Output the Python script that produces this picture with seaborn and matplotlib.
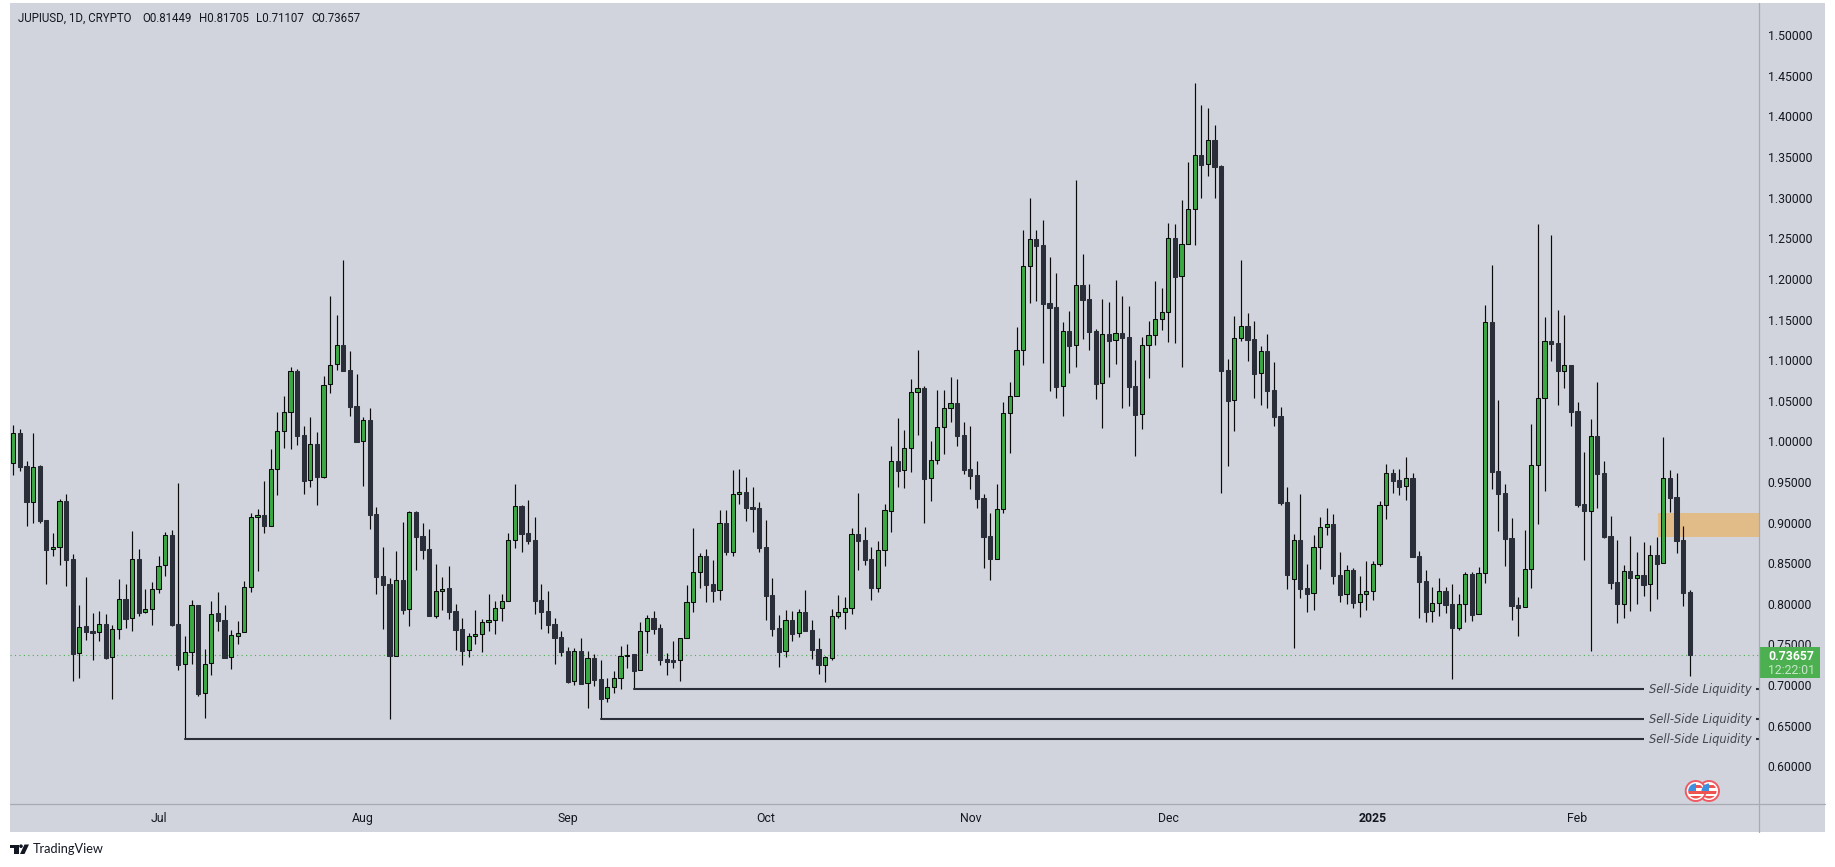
import matplotlib
matplotlib.use("Agg")
import matplotlib.pyplot as plt
from matplotlib.patches import Circle, Polygon, Rectangle
import numpy as np
import pandas as pd
import seaborn as sns

# daily candles, one value per day from Jun 2024 to Feb 2025
opens = [
    .9729,1.0099,.9696,.9257,.9696,.9028,.8671,.8695,.9262,.8548,
    .7391,.7723,.7662,.7649,.7752,.7342,.7686,.8055,.7822,.8548,
    .7896,.7932,.8179,.8474,.8847,.7752,.7255,.7403,.7986,.6899,
    .7268,.7887,.7801,.7342,.7608,.7649,.8203,.9065,.9093,.8954,
    .9655,1.0123,1.0357,1.0866,1.0078,.9520,.9967,.9565,1.0702,1.0948,
    1.1186,1.0878,1.0435,1.0000,1.0263,.9106,.8343,.8240,.7354,.8293,
    .7932,.9130,.8835,.8675,.7854,.8162,.8191,.7912,.7685,.7427,
    .7599,.7624,.7772,.7796,.7944,.8030,.8781,.9199,.8867,.8781,
    .8042,.7911,.7751,.7591,.7415,.7045,.7415,.7021,.7333,.7070,
    .6836,.6972,.7082,.7353,.7378,.7181,.7661,.7825,.7702,.7316,
    .7304,.7304,.7575,.8018,.8387,.8588,.8243,.8165,.8994,.8641,
    .9347,.9376,.9191,.9179,.8699,.8108,.7702,.7415,.7800,.7636,
    .7899,.7677,.7443,.7250,.7337,.7845,.7895,.7944,.8859,.8785,
    .8551,.8198,.8658,.9138,.9757,.9642,.9914,1.0603,1.0656,.9544,
    .9766,1.0172,1.0406,1.0471,1.0078,.9659,.9585,.9302,.8835,.8556,
    .9163,1.0344,1.0553,1.1120,1.2154,1.2490,1.2416,1.1702,1.1653,1.0677,
    1.1358,1.1181,1.1924,1.1752,1.1358,1.0713,1.1321,1.1243,1.1333,1.1284,
    1.0681,1.0332,1.1181,1.1304,1.1501,1.1587,1.2502,1.2030,1.2424,1.2855,
    1.3524,1.3409,1.3708,1.3388,1.0878,1.0504,1.1267,1.1419,1.1259,1.0837,
    1.1111,1.0631,1.0311,.9252,.8300,.8785,.8194,.8128,.8694,.8940,
    .8982,.8354,.8116,.8415,.8017,.8116,.8153,.8485,.9211,.9609,
    .9523,.9445,.9548,.8588,.8280,.7907,.8005,.8157,.7997,.7706,
    .7993,.8366,.7870,.8374,1.1468,.9634,.9363,.8809,.7985,.7956,
    .8424,.9704,1.0528,1.1234,1.1209,1.0869,1.0938,1.0368,.9224,.9146,
    1.0065,.9609,.8834,.8268,.8001,.8403,.8321,.8354,.8239,.8600,
    .8497,.9548,.9314,.8785,.81449,
]
highs = [
    1.0201,1.0152,.9758,1.0103,.9709,.9028,.8868,.9290,.9352,.8613,
    .7986,.8330,.7883,.7912,.7875,.7740,.8306,.8244,.8896,.8675,
    .8183,.8269,.8589,.8884,.8909,.9483,.7604,.8047,.7986,.7444,
    .8035,.8146,.7986,.7678,.7789,.8281,.9118,.9167,.9512,.9906,
    1.0361,1.0558,1.0915,1.0890,1.0189,1.0300,1.0115,1.0804,1.1789,1.1555,
    1.2232,1.1112,1.0829,1.0300,1.0410,.9192,.8700,.8318,.8650,.9007,
    .9143,.9143,.8995,.8921,.8490,.8330,.8466,.7998,.7821,.7636,
    .7923,.7813,.8116,.8034,.8116,.8867,.9474,.9216,.9277,.9068,
    .8243,.8157,.7821,.7665,.7468,.7456,.7579,.7415,.7382,.7308,
    .7086,.7173,.7480,.7505,.7378,.7776,.7862,.7911,.7751,.7394,
    .7542,.7575,.8231,.8933,.8625,.8674,.8539,.9154,.9154,.9646,
    .9659,.9560,.9437,.9253,.9031,.8317,.7862,.7923,.7911,.7936,
    .8170,.7800,.7579,.7357,.7936,.8108,.8083,.8933,.9363,.8945,
    .8699,.8773,.9228,.9942,1.0286,1.0139,1.0767,1.1124,1.0681,1.0004,
    1.0631,1.0631,1.0791,1.0767,1.0238,1.0188,.9758,.9351,.9118,.9475,
    1.0484,1.0730,1.1407,1.2601,1.2995,1.2601,1.2724,1.2268,1.2072,1.1468,
    1.1604,1.3216,1.2305,1.1936,1.1382,1.1752,1.1715,1.1985,1.1788,1.1665,
    1.1001,1.1284,1.1481,1.1973,1.1887,1.2687,1.2675,1.2970,1.3438,1.4410,
    1.4139,1.4102,1.3893,1.3401,1.1013,1.1542,1.2232,1.1579,1.1481,1.1173,
    1.1320,1.0975,1.0422,.9437,.8858,.9351,.8489,.8846,.9068,.9178,
    .9105,.8637,.8477,.8440,.8342,.8526,.8526,.9265,.9720,.9658,
    .9658,.9806,.9609,.8649,.8415,.8206,.8317,.8206,.8243,.8120,
    .8391,.8391,.8452,1.1677,1.2169,1.0508,.9474,.9055,.8083,.8908,
    1.0212,1.2680,1.1529,1.2538,1.1615,1.1554,1.0938,1.0483,.9868,1.0274,
    1.0729,.9757,.9080,.8785,.8477,.8834,.8637,.8760,.8723,.8822,
    1.0052,.9646,.9609,.8957,.81705,
]
lows = [
    .9586,.9639,.8962,.8999,.8999,.8248,.8593,.8482,.8224,.7054,
    .7091,.7559,.7313,.7547,.7325,.6833,.7571,.7707,.7670,.7855,
    .7883,.7744,.8138,.8347,.7731,.7190,.6341,.7264,.6870,.6599,
    .7128,.7666,.7337,.7202,.7510,.7649,.8150,.8404,.8872,.8954,
    .9340,.9922,.9906,.9955,.9352,.9438,.9217,.9549,1.0595,1.0878,
    1.0870,1.0312,.9996,.9450,.8921,.8121,.7690,.6587,.7354,.7875,
    .7727,.8416,.8552,.7854,.7830,.7924,.7813,.7432,.7246,.7349,
    .7505,.7410,.7665,.7628,.7788,.8030,.8686,.8637,.8736,.7874,
    .7690,.7640,.7259,.7357,.7025,.7000,.7017,.6717,.6988,.6582,
    .6791,.6902,.6951,.7209,.6951,.7181,.7394,.7628,.7246,.7123,
    .7209,.7049,.7575,.7899,.8194,.8022,.8022,.8046,.8600,.8588,
    .9228,.9019,.8883,.8637,.7800,.7603,.7222,.7345,.7542,.7591,
    .7665,.7320,.7136,.7037,.7308,.7825,.7690,.7874,.8416,.8477,
    .8046,.8145,.8465,.8883,.9437,.9425,.9626,1.0082,.8999,.9269,
    .9725,.9848,1.0242,.9946,.9602,.9417,.9183,.8441,.8293,.8556,
    .9122,.9860,1.0553,1.0939,1.1702,1.1727,1.0964,1.0619,1.0533,1.0311,
    1.0841,1.0915,1.1259,1.1124,1.0521,1.0164,1.0791,1.0952,1.0410,1.0435,
    .9819,1.0151,1.0779,1.1185,1.1370,1.1222,1.1210,1.0915,1.2424,1.2416,
    1.2997,1.3265,1.2997,.9364,.9696,1.0127,1.1235,1.0988,1.0533,1.0447,
    1.0409,1.0188,.9215,.8182,.7455,.8071,.7898,.7923,.8428,.8846,
    .8243,.8021,.7997,.7948,.7837,.7923,.8046,.8469,.9043,.9363,
    .9338,.9277,.8579,.7825,.7775,.7775,.7849,.7886,.7078,.7677,
    .7775,.7788,.7870,.8255,.9412,.8895,.8465,.7800,.7603,.7956,
    .8194,.8982,.9388,1.0988,1.0446,1.0655,1.0188,.9191,.8538,.7418,
    .9178,.8809,.8182,.7763,.7825,.7911,.7997,.8095,.7911,.8058,
    .8497,.9129,.8625,.7972,.71107,
]
closes = [
    1.0099,.9688,.9257,.9688,.9024,.8667,.8695,.9262,.8544,.7383,
    .7719,.7658,.7645,.7748,.7337,.7686,.8055,.7817,.8548,.7891,
    .7932,.8179,.8462,.8843,.7740,.7251,.7403,.7982,.6894,.7255,
    .7871,.7793,.7337,.7612,.7645,.8203,.9065,.9089,.8962,.9655,
    1.0123,1.0357,1.0862,1.0070,.9516,.9963,.9565,1.0698,1.0944,1.1182,
    1.0870,1.0427,.9996,1.0259,.9098,.8334,.8236,.7354,.8289,.7924,
    .9126,.8827,.8667,.7854,.8162,.8187,.7904,.7682,.7423,.7599,
    .7624,.7772,.7796,.7944,.8030,.8781,.9199,.8863,.8777,.8038,
    .7903,.7743,.7583,.7410,.7037,.7415,.7017,.7328,.7066,.6832,
    .6972,.7082,.7353,.7374,.7177,.7661,.7821,.7694,.7308,.7287,
    .7287,.7575,.8018,.8387,.8584,.8231,.8157,.8990,.8637,.9347,
    .9372,.9183,.9171,.8686,.8100,.7690,.7410,.7796,.7628,.7895,
    .7665,.7431,.7246,.7341,.7845,.7895,.7944,.8855,.8773,.8539,
    .8194,.8658,.9150,.9753,.9638,.9913,1.0603,1.0652,.9540,.9766,
    1.0172,1.0406,1.0467,1.0069,.9651,.9577,.9294,.8827,.8556,.9163,
    1.0344,1.0553,1.1120,1.2154,1.2486,1.2408,1.1694,1.1645,1.0673,1.1354,
    1.1177,1.1920,1.1743,1.1349,1.0709,1.1317,1.1239,1.1329,1.1272,1.0673,
    1.0328,1.1181,1.1304,1.1501,1.1587,1.2498,1.2026,1.2424,1.2855,1.3520,
    1.3405,1.3704,1.3380,1.0869,1.0500,1.1267,1.1415,1.1251,1.0833,1.1107,
    1.0623,1.0303,.9244,.8358,.8780,.8182,.8124,.8694,.8940,.8977,
    .8346,.8112,.8411,.8013,.8116,.8153,.8485,.9211,.9605,.9515,
    .9441,.9544,.8579,.8272,.7903,.8005,.8153,.7985,.7706,.7993,
    .8362,.7866,.8374,1.1464,.9621,.9355,.8801,.7976,.7952,.8424,
    .9704,1.0528,1.1230,1.1197,1.0865,1.0934,1.0360,.9215,.9142,1.0060,
    .9597,.8822,.8255,.7997,.8399,.8317,.8350,.8231,.8596,.8489,
    .9544,.9301,.8772,.8132,.73657,
]

month_days = [23, 54, 85, 115, 146, 176, 207, 238]
month_labels = ["Jul", "Aug", "Sep", "Oct", "Nov", "Dec", "2025", "Feb"]
price_ticks = [.60, .65, .70, .75, .80, .85, .90, .95, 1.00, 1.05, 1.10, 1.15,
               1.20, 1.25, 1.30, 1.35, 1.40, 1.45, 1.50]

# sell side liquidity levels and the candle each one starts from
liquidity_prices = [.6951, .6582, .6336]
liquidity_days = [95, 90, 27]
liquidity_label = "Sell-Side Liquidity"
last_close = .73657
zone_low, zone_high = .8822, .9118
zone_start = 250.2

W, H = 1835, 867
PANEL = "#d1d4dc"
GREEN = "#3ca844"
DARK = "#2a2e39"
WICK = "#0a0a0a"
AXIS = "#a8abb4"
TEXT = "#131722"
XLIM = (0.5, 265.5)
YLIM = (0.5536, 1.5396)


def px_rect(left, top, right, bottom):
    return [left / W, 1 - bottom / H, (right - left) / W, (bottom - top) / H]


sns.set_theme(style="white")
plt.rcParams["font.family"] = ["Roboto", "DejaVu Sans"]

df = pd.DataFrame({"day": np.arange(1, len(opens) + 1), "open": opens, "high": highs, "low": lows, "close": closes})
df["body_low"] = df[["open", "close"]].min(axis=1)
df["body"] = (df["close"] - df["open"]).abs()
up = df[df["close"] > df["open"]]
down = df[df["close"] <= df["open"]]

fig = plt.figure(figsize=(W / 100, H / 100), dpi=100, facecolor="white")

bg = fig.add_axes(px_rect(10, 3, 1825, 832), zorder=-1)
bg.set_facecolor(PANEL)
bg.set_xticks([])
bg.set_yticks([])
sns.despine(ax=bg, left=True, bottom=True)

ax = fig.add_axes(px_rect(10, 3, 1759, 804), zorder=1)
ax.patch.set_visible(False)

ax.axhspan(zone_low, zone_high, xmin=(zone_start - XLIM[0]) / (XLIM[1] - XLIM[0]), color="#e2bc88", lw=0, zorder=1)
ax.axhline(last_close, color="#4caf50", lw=0.8, ls=(0, (1, 3)), zorder=1.5)

ax.vlines(df["day"], df["low"], df["high"], color=WICK, lw=0.85, zorder=2)
sns.barplot(data=down, x="day", y="body", bottom=down["body_low"].values, native_scale=True, width=0.64,
            color=DARK, saturation=1, edgecolor=DARK, linewidth=0.75, errorbar=None, zorder=3, ax=ax)
sns.barplot(data=up, x="day", y="body", bottom=up["body_low"].values, native_scale=True, width=0.62,
            color=GREEN, saturation=1, edgecolor=WICK, linewidth=0.75, errorbar=None, zorder=3, ax=ax)

for price, start in zip(liquidity_prices, liquidity_days):
    sns.lineplot(x=[start, XLIM[1]], y=[price, price], color=DARK, lw=1.5, errorbar=None, ax=ax, zorder=2.5)
    ax.text(256.6, price, liquidity_label, ha="center", va="center", fontsize=8.3, style="italic",
            family="DejaVu Sans", color="#434651", zorder=4,
            bbox=dict(facecolor=PANEL, edgecolor="none", pad=3.2))

ax.set_xlim(*XLIM)
ax.set_ylim(*YLIM)
ax.set_xlabel("")
ax.set_ylabel("")
ax.yaxis.tick_right()
ax.set_yticks(price_ticks)
ax.set_yticklabels([f"{p:.5f}" for p in price_ticks], fontsize=8.8, color=TEXT)
ax.set_xticks(month_days)
ax.set_xticklabels(month_labels, fontsize=8.8, color=TEXT)
ax.get_xticklabels()[6].set_fontweight("bold")
ax.tick_params(axis="y", length=0, pad=6.2)
ax.tick_params(axis="x", length=0, pad=6)
for side in ax.spines.values():
    side.set_visible(False)

# everything below is placed in figure pixels
ov = fig.add_axes([0, 0, 1, 1], zorder=5)
ov.set_xlim(0, W)
ov.set_ylim(H, 0)
ov.axis("off")

ov.plot([1759, 1759], [3, 832], color=AXIS, lw=0.9)
ov.plot([10, 1825], [804, 804], color=AXIS, lw=0.9)

ov.add_patch(Rectangle((1760, 647), 60, 31, facecolor="#4caf50", edgecolor="none"))
ov.text(1768, 656, f"{last_close:.5f}", color="white", fontsize=8.8, fontweight="bold", va="center")
ov.text(1768, 670, "12:22:01", color="#c8e6c9", fontsize=8.8, va="center")

header = [(18, "JUPIUSD, 1D, CRYPTO"), (142, "O0.81449"), (199, "H0.81705"), (256, "L0.71107"), (311, "C0.73657")]
for x, label in header:
    ov.text(x, 18, label, color=TEXT, fontsize=8.3, va="center")

# event flags
for cx in [1709, 1695.7]:
    ring = Circle((cx, 791), 10, facecolor="white", edgecolor="#ef5a63", lw=1.4, zorder=6)
    ov.add_patch(ring)
    inner = Circle((cx, 791), 7.5, transform=ov.transData)
    for top, color in [(791, "#ef5350"), (796, "#ef5350")]:
        stripe = Rectangle((cx - 8, top), 16, 3, facecolor=color, edgecolor="none", zorder=7)
        ov.add_patch(stripe)
        stripe.set_clip_path(inner)
    canton = Rectangle((cx - 8, 783), 8, 8, facecolor="#3f8fe0", edgecolor="none", zorder=7)
    ov.add_patch(canton)
    canton.set_clip_path(inner)
    red_top = Rectangle((cx, 785), 8, 3, facecolor="#ef5350", edgecolor="none", zorder=7)
    ov.add_patch(red_top)
    red_top.set_clip_path(inner)

# TradingView mark and name
ov.add_patch(Polygon([(10, 844.5), (18.5, 844.5), (18.5, 854), (14, 854), (14, 848), (10, 848)], facecolor=TEXT, edgecolor="none"))
ov.add_patch(Circle((21, 846.2), 1.8, facecolor=TEXT, edgecolor="none"))
ov.add_patch(Polygon([(24.5, 844.5), (29, 844.5), (24.5, 854), (20, 854)], facecolor=TEXT, edgecolor="none"))
ov.text(33, 849, "TradingView", color=TEXT, fontsize=9.2, va="center", family="Lato")

fig.savefig("out.png", dpi=100)
